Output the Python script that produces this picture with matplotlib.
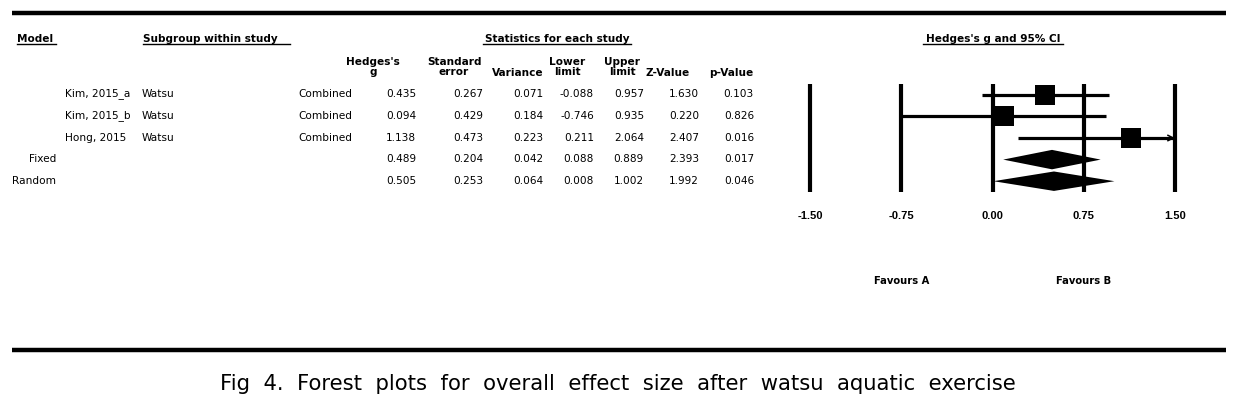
import matplotlib.pyplot as plt
import matplotlib.transforms as mtransforms
from matplotlib.patches import Polygon

plt.rcParams['font.family'] = ['DejaVu Sans']

studies = ['Kim, 2015_a', 'Kim, 2015_b', 'Hong, 2015']
subgroup = ['Watsu', 'Watsu', 'Watsu']
models = ['Fixed', 'Random']
hedges_g = [0.435, 0.094, 1.138, 0.489, 0.505]
std_err = [0.267, 0.429, 0.473, 0.204, 0.253]
variance = [0.071, 0.184, 0.223, 0.042, 0.064]
lower = [-0.088, -0.746, 0.211, 0.088, 0.008]
upper = [0.957, 0.935, 2.064, 0.889, 1.002]
z_value = [1.630, 0.220, 2.407, 2.393, 1.992]
p_value = [0.103, 0.826, 0.016, 0.017, 0.046]
ticks = [-1.50, -0.75, 0.00, 0.75, 1.50]

W, H = 1246, 404
fig = plt.figure(figsize=(W / 100, H / 100), dpi=100)

# page axes in pixel coordinates for the table part
page = fig.add_axes([0, 0, 1, 1])
page.set_xlim(0, W)
page.set_ylim(H, 0)
page.axis('off')

page.plot([12, 1226], [13, 13], color='black', lw=3.2, solid_capstyle='butt')
page.plot([12, 1226], [350, 350], color='black', lw=3.2, solid_capstyle='butt')

fs = 7.6
hb = dict(fontsize=fs, fontweight='bold', va='center')

# group headers with underline
def header(x0, x1, y, text, ha='left'):
    xt = x0 if ha == 'left' else (x0 + x1) / 2
    page.text(xt, y, text, ha=ha, **hb)
    page.plot([x0, x1], [y + 5.5, y + 5.5], color='black', lw=1)

header(17, 56, 38.5, 'Model')
header(143, 290, 38.5, 'Subgroup within study')
header(483, 631, 38.5, 'Statistics for each study', ha='center')
header(923, 1063, 38.5, 'Hedges\'s g and 95% CI', ha='center')

col_heads = [('Hedges\'s\ng', 373), ('Standard\nerror', 454), ('Variance', 518),
             ('Lower\nlimit', 567), ('Upper\nlimit', 622), ('Z-Value', 668),
             ('p-Value', 731)]
for txt, x in col_heads:
    y = 67 if '\n' in txt else 73
    page.text(x, y, txt, ha='center', fontsize=fs, fontweight='bold', va='center',
              linespacing=0.95)

row_y = [94, 116, 138, 159, 181]
tf = dict(fontsize=fs, va='center')
for i, name in enumerate(studies):
    page.text(65, row_y[i], name, ha='left', **tf)
    page.text(142, row_y[i], subgroup[i], ha='left', **tf)
    page.text(352, row_y[i], 'Combined', ha='right', **tf)
for j, m in enumerate(models):
    page.text(56, row_y[3 + j], m, ha='right', **tf)

cols = [(hedges_g, 416), (std_err, 483), (variance, 543), (lower, 594),
        (upper, 644), (z_value, 699), (p_value, 754)]
for vals, xr in cols:
    for i, v in enumerate(vals):
        page.text(xr, row_y[i], f'{v:.3f}', ha='right', **tf)

caption = 'Fig 4. Forest plots for overall effect size after watsu aquatic exercise'
page.text(618, 384, caption.replace(' ', '  '), ha='center', va='center', fontsize=15.2)

# forest plot axes
ax = fig.add_axes([810 / W, 1 - 192 / H, 365 / W, 108 / H])
ax.set_xlim(-1.5, 1.5)
ax.set_ylim(4.5, -0.5)
for s in ax.spines.values():
    s.set_visible(False)
ax.set_yticks([])
ax.set_xticks(ticks)
ax.set_xticklabels([f'{t:.2f}' for t in ticks], fontsize=8, fontweight='bold',
                   family='Liberation Sans')
ax.tick_params(axis='x', length=0, pad=14)
ax.patch.set_alpha(0)

for t in ticks:
    ax.plot([t, t], [-0.5, 4.5], color='black', lw=3, solid_capstyle='butt', clip_on=False)

for i in range(3):
    hi = min(upper[i], 1.5)
    ax.plot([lower[i], hi], [i, i], color='black', lw=2.3, solid_capstyle='butt')
    if upper[i] > 1.5:
        ax.annotate('', xy=(1.5, i), xytext=(1.4, i),
                    arrowprops=dict(arrowstyle='->', lw=1.1, color='black',
                                    shrinkA=0, shrinkB=0, mutation_scale=10))
    ax.plot(hedges_g[i], i, marker='s', color='black', ms=15, mew=0)

for k in range(3, 5):
    dia = Polygon([[lower[k], k], [hedges_g[k], k - 0.45], [upper[k], k],
                   [hedges_g[k], k + 0.45]], closed=True, color='black', lw=0)
    ax.add_patch(dia)

# favours labels: x in data units, y in page pixels
trans = mtransforms.blended_transform_factory(ax.transData, page.transData)
ax.text(-0.75, 281, 'Favours A', transform=trans, ha='center', va='center',
        fontsize=7.2, fontweight='bold', clip_on=False)
ax.text(0.75, 281, 'Favours B', transform=trans, ha='center', va='center',
        fontsize=7.2, fontweight='bold', clip_on=False)

fig.savefig('out.png', dpi=100)
